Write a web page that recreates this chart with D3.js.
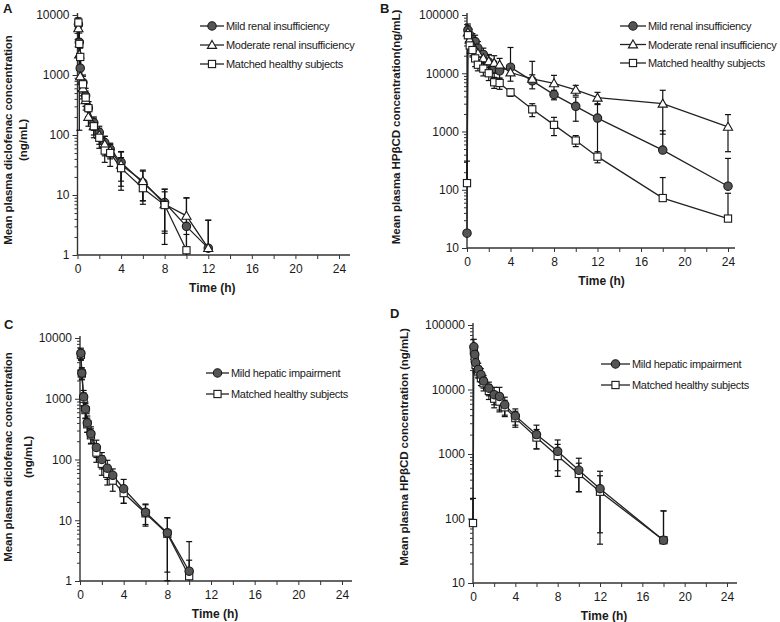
<!DOCTYPE html>
<html>
<head>
<meta charset="utf-8">
<script src="https://cdn.jsdelivr.net/npm/d3@7"></script>
<style>
  body { margin: 0; background: #fff; }
  svg { display: block; }
  text { font-family: "Liberation Sans", Arial, sans-serif; fill: #1a1a1a; }
</style>
</head>
<body>
<svg id="chart" width="780" height="622"></svg>
<script>

// ---- Panel A: diclofenac, renal insufficiency ----
var tA = [0.083, 0.167, 0.25, 0.5, 0.75, 1, 1.5, 2, 2.5, 3, 4, 6, 8, 10, 12];
var aMild     = [7000, 3500, 1300, 750, 450, 280, 160, 110, 75, 58, 35, 16, 7.5, 3, 1.3];
var aMildSd   = [1500, 1500, 600, 250, 150, 80, 40, 30, 20, 15, 18, 9, 5, 6, 2.5];
var aMod      = [6000, 2200, 950, 600, 380, 200, 140, 100, 70, 55, 32, 17, 7, 4.5, 1.3];
var aModSd    = [2000, 1000, 400, 200, 120, 60, 40, 30, 25, 15, 20, 9, 5.5, 4.4, 2.5];
var tAh = [0.083, 0.167, 0.25, 0.5, 0.75, 1, 1.5, 2, 2.5, 3, 4, 6, 8, 10];
var aHealthy   = [7500, 3300, 2000, 700, 420, 280, 140, 90, 55, 50, 28, 13, 6.8, 1.2];
var aHealthySd = [1500, 3180, 800, 250, 120, 80, 50, 30, 20, 20, 14, 5, 4.5, 1];

// ---- Panel B: HPβCD, renal insufficiency ----
var tB  = [0, 0.083, 0.25, 0.5, 0.75, 1, 1.5, 2, 2.5, 3, 4, 6, 8, 10, 12, 18, 24];
var bMild     = [18, 55000, 45000, 38000, 35000, 27000, 21000, 15600, 12000, 11000, 12700, 7400, 4300, 2700, 1700, 480, 115];
var bMildSd   = [0, 15000, 12000, 10000, 10000, 8000, 6000, 5000, 4000, 3000, 15000, 2000, 800, 1200, 1300, 550, 230];
var tBm = [0.083, 0.25, 0.5, 0.75, 1, 1.5, 2, 2.5, 3, 4, 6, 8, 10, 12, 18, 24];
var bMod      = [50000, 38000, 30000, 25000, 22000, 18000, 16000, 15000, 14000, 10300, 8000, 6700, 5200, 3800, 3000, 1200];
var bModSd    = [15000, 10000, 10000, 8000, 6000, 5000, 5000, 5000, 4000, 3000, 8000, 2500, 1000, 900, 2100, 750];
var bHealthy   = [130, 45000, 30000, 25000, 18000, 14000, 12000, 10000, 7000, 6800, 4700, 2400, 1300, 700, 370, 72, 32];
var bHealthySd = [180, 12000, 8000, 6000, 5000, 3000, 3000, 2500, 1500, 1500, 700, 600, 450, 150, 80, 90, 55];

// ---- Panel C: diclofenac, hepatic impairment ----
var tC = [0.083, 0.167, 0.333, 0.5, 0.667, 1, 1.5, 2, 2.5, 3, 4, 6, 8, 10];
var cMild      = [5600, 2650, 1070, 680, 400, 265, 158, 100, 72, 55, 33, 13.5, 6.2, 1.45];
var cMildSd    = [1200, 600, 300, 200, 120, 80, 50, 30, 25, 15, 14, 5, 4.8, 3];
var cHealthy   = [5300, 2600, 1000, 650, 380, 250, 130, 85, 58, 45, 28, 13, 6, 1.2];
var cHealthySd = [1000, 500, 250, 180, 100, 70, 40, 30, 20, 15, 9, 5, 4.99, 1];

// ---- Panel D: HPβCD, hepatic impairment ----
var tDm = [0.083, 0.167, 0.25, 0.5, 0.75, 1, 1.5, 2, 2.5, 3, 4, 6, 8, 10, 12, 18];
var dMild      = [46000, 35000, 26000, 20500, 17000, 13500, 10500, 8300, 7800, 5800, 3900, 2000, 1100, 560, 290, 46];
var dMildSd    = [14000, 10000, 7000, 5000, 4000, 3000, 2500, 2500, 3000, 1800, 1100, 800, 550, 300, 250, 85];
var tDh = [0, 0.083, 0.167, 0.25, 0.5, 0.75, 1, 1.5, 2, 2.5, 3, 4, 6, 8, 10, 12, 18];
var dHealthy   = [85, 40000, 30000, 24000, 19000, 15000, 12500, 9500, 7200, 6500, 5300, 3600, 1800, 930, 490, 260, 46];
var dHealthySd = [120, 10000, 8000, 6000, 4000, 3500, 3000, 2500, 2000, 2000, 1500, 1000, 600, 480, 230, 200, 85];

var xTicks = d3.range(0, 25, 2);

var svg = d3.select("#chart");

function zip(t, v, s) {
    return t.map(function (d, i) { return { t: d, v: v[i], sd: s[i] }; });
}

function drawMarker(sel, shape) {
    if (shape == "circle") {
        sel.append("circle").attr("r", 4.2)
            .attr("fill", "#555").attr("stroke", "#1a1a1a").attr("stroke-width", 1.1);
    } else if (shape == "triangle") {
        sel.append("path").attr("d", "M0,-4.6L4.6,3.4L-4.6,3.4Z")
            .attr("fill", "#fff").attr("stroke", "#1a1a1a").attr("stroke-width", 1.1);
    } else {
        sel.append("rect").attr("x", -3.6).attr("y", -3.6).attr("width", 7.2).attr("height", 7.2)
            .attr("fill", "#fff").attr("stroke", "#1a1a1a").attr("stroke-width", 1.1);
    }
}

function drawPanel(p) {
    var g = svg.append("g");
    var x = d3.scaleLinear().domain([0, 24]).range([p.x0, p.x1]);
    var y = d3.scaleLog().domain([p.ymin, p.ymax]).range([p.yb, p.yt]);

    // y axis with decade labels and minor log ticks
    var yTicks = [];
    for (var e = Math.log10(p.ymin); e < Math.log10(p.ymax); e++) {
        for (var m = 1; m < 10; m++) yTicks.push(m * Math.pow(10, e));
    }
    yTicks.push(p.ymax);
    var isDecade = function (d) {
        var l = Math.log10(d);
        return Math.abs(l - Math.round(l)) < 1e-9;
    };
    var yAxis = g.append("g")
        .attr("transform", "translate(" + p.x0 + ",0)")
        .call(d3.axisLeft(y).tickValues(yTicks).tickSize(5)
            .tickFormat(function (d) { return isDecade(d) ? d3.format("d")(d) : ""; }));
    yAxis.select(".domain").remove();
    yAxis.selectAll(".tick line")
        .attr("stroke", "#333").attr("stroke-width", 1)
        .attr("x2", function (d) { return isDecade(d) ? -5 : -3; });
    yAxis.selectAll(".tick text").attr("x", -8).attr("font-size", "12px");
    g.append("line").attr("x1", p.x0).attr("x2", p.x0)
        .attr("y1", p.yb).attr("y2", p.yt - 2)
        .attr("stroke", "#333").attr("stroke-width", 1.4);

    // x axis
    var xAxis = g.append("g")
        .attr("transform", "translate(0," + p.yb + ")")
        .call(d3.axisBottom(x).tickValues(xTicks).tickSize(4)
            .tickFormat(function (d) { return d % 4 == 0 ? d : ""; }));
    xAxis.select(".domain").remove();
    xAxis.selectAll(".tick line").attr("stroke", "#333");
    xAxis.selectAll(".tick text").attr("y", 9).attr("font-size", "12px");
    g.append("line").attr("x1", p.x0).attr("x2", p.xEnd)
        .attr("y1", p.yb).attr("y2", p.yb)
        .attr("stroke", "#333").attr("stroke-width", 1.4);

    g.append("text")
        .attr("x", (p.x0 + p.x1) / 2 + 4).attr("y", p.yb + 37)
        .attr("text-anchor", "middle").attr("font-size", "12px").attr("font-weight", "bold")
        .text("Time (h)");

    // y title (one or two lines)
    p.ytitle.forEach(function (line, i) {
        g.append("text")
            .attr("transform", "translate(" + p.ytx[i] + "," + p.yty + ") rotate(-90)")
            .attr("text-anchor", "middle").attr("font-size", "11.6px").attr("font-weight", "bold")
            .attr("letter-spacing", "-0.1px")
            .text(line);
    });

    // panel letter
    g.append("text").attr("x", p.letterX).attr("y", p.letterY)
        .attr("font-size", "13px").attr("font-weight", "bold").text(p.letter);

    var line = d3.line().x(function (d) { return x(d.t); }).y(function (d) { return y(d.v); });

    p.series.forEach(function (s) {
        var pts = zip(s.t, s.v, s.sd);
        g.append("path").datum(pts).attr("d", line)
            .attr("fill", "none").attr("stroke", "#222").attr("stroke-width", 1.3);

        // mean ± SD; on the log axis a lower end <= 0 is not drawn
        var eb = g.append("g").selectAll("g").data(pts.filter(function (d) { return d.sd > 0; }))
            .enter().append("g")
            .attr("stroke", "#111").attr("stroke-width", 1.2);
        var lowOk = function (d) { return d.v - d.sd > 0; };
        eb.append("line")
            .attr("x1", function (d) { return x(d.t); }).attr("x2", function (d) { return x(d.t); })
            .attr("y1", function (d) { return y(d.v + d.sd); })
            .attr("y2", function (d) { return lowOk(d) ? Math.min(y(Math.max(d.v - d.sd, p.ymin)), p.yb) : y(d.v); });
        eb.append("line")
            .attr("x1", function (d) { return x(d.t) - 3; }).attr("x2", function (d) { return x(d.t) + 3; })
            .attr("y1", function (d) { return y(d.v + d.sd); }).attr("y2", function (d) { return y(d.v + d.sd); });
        eb.filter(function (d) { return d.v - d.sd > p.ymin; }).append("line")
            .attr("x1", function (d) { return x(d.t) - 3; }).attr("x2", function (d) { return x(d.t) + 3; })
            .attr("y1", function (d) { return y(d.v - d.sd); }).attr("y2", function (d) { return y(d.v - d.sd); });
    });

    p.series.forEach(function (s) {
        var pts = zip(s.t, s.v, s.sd);
        g.append("g").selectAll("g").data(pts).enter().append("g")
            .attr("transform", function (d) { return "translate(" + x(d.t) + "," + y(d.v) + ")"; })
            .each(function () { drawMarker(d3.select(this), s.shape); });
    });

    // legend
    var order = p.legendOrder || p.series.map(function (s, i) { return i; });
    order.forEach(function (k, i) {
        var s = p.series[k];
        var ly = p.legY + i * p.legDy;
        g.append("line").attr("x1", p.legX).attr("x2", p.legX + p.legLen)
            .attr("y1", ly).attr("y2", ly).attr("stroke", "#222").attr("stroke-width", 1.3);
        var mk = g.append("g").attr("transform", "translate(" + (p.legX + p.legLen / 2) + "," + ly + ")");
        drawMarker(mk, s.shape);
        g.append("text").attr("x", p.legX + p.legLen + 2).attr("y", ly + 4)
            .attr("font-size", "11px").attr("letter-spacing", "-0.3px")
            .text(s.name);
    });
}

drawPanel({
    letter: "A", letterX: 3, letterY: 13,
    x0: 77.5, x1: 339, xEnd: 350, yt: 15, yb: 255, ymin: 1, ymax: 10000,
    ytitle: ["Mean plasma diclofenac concentration", "(ng/mL)"], ytx: [12, 27], yty: 140,
    legX: 200, legY: 26, legDy: 19, legLen: 24,
    series: [
        { name: "Mild renal insufficiency", shape: "circle", t: tA, v: aMild, sd: aMildSd },
        { name: "Moderate renal insufficiency", shape: "triangle", t: tA, v: aMod, sd: aModSd },
        { name: "Matched healthy subjects", shape: "square", t: tAh, v: aHealthy, sd: aHealthySd }
    ]
});

drawPanel({
    letter: "B", letterX: 380, letterY: 13,
    x0: 467, x1: 728, xEnd: 735, yt: 15, yb: 248, ymin: 10, ymax: 100000,
    ytitle: ["Mean plasma  HP\u03b2CD concentration(ng/mL)"], ytx: [400], yty: 127,
    legX: 620, legY: 26, legDy: 18.5, legLen: 26,
    series: [
        { name: "Mild renal insufficiency", shape: "circle", t: tB, v: bMild, sd: bMildSd },
        { name: "Moderate renal insufficiency", shape: "triangle", t: tBm, v: bMod, sd: bModSd },
        { name: "Matched healthy subjects", shape: "square", t: tB, v: bHealthy, sd: bHealthySd }
    ]
});

drawPanel({
    letter: "C", letterX: 4, letterY: 329,
    x0: 80, x1: 342, xEnd: 352, yt: 338, yb: 581, ymin: 1, ymax: 10000,
    ytitle: ["Mean plasma diclofenac concentration", "(ng/mL)"], ytx: [12, 32], yty: 457,
    legX: 206, legY: 373, legDy: 21, legLen: 23,
    series: [
        { name: "Matched healthy subjects", shape: "square", t: tC, v: cHealthy, sd: cHealthySd },
        { name: "Mild hepatic impairment", shape: "circle", t: tC, v: cMild, sd: cMildSd }
    ],
    legendOrder: [1, 0]
});

drawPanel({
    letter: "D", letterX: 390, letterY: 318,
    x0: 473, x1: 727, xEnd: 737, yt: 325, yb: 583, ymin: 10, ymax: 100000,
    ytitle: ["Mean plasma HP\u03b2CD concentration (ng/mL)"], ytx: [408], yty: 447,
    legX: 601, legY: 364, legDy: 21, legLen: 29,
    series: [
        { name: "Matched healthy subjects", shape: "square", t: tDh, v: dHealthy, sd: dHealthySd },
        { name: "Mild hepatic impairment", shape: "circle", t: tDm, v: dMild, sd: dMildSd }
    ],
    legendOrder: [1, 0]
});

</script>
</body>
</html>
